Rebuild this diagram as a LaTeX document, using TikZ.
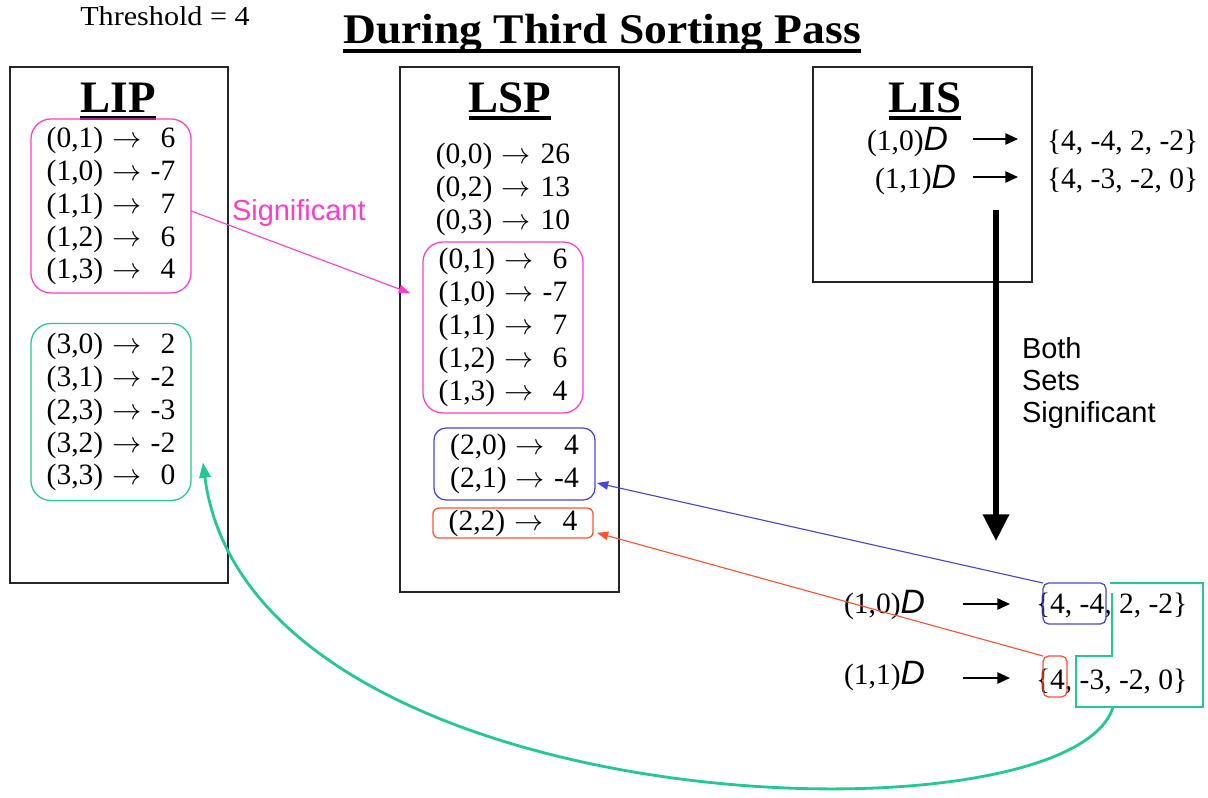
\documentclass[tikz,border=0pt]{standalone}
\usepackage{fontspec}
\usepackage{graphicx}
\setmainfont{Liberation Serif}
\newfontfamily\arialfont{Liberation Sans}
\usetikzlibrary{arrows.meta}

\definecolor{sigpink}{RGB}{255,60,200}
\definecolor{insgreen}{RGB}{35,200,150}
\definecolor{selblue}{RGB}{70,70,215}
\definecolor{selred}{RGB}{255,80,50}

% one list entry: coordinate -> value (value right aligned in a box)
\newcommand\ent[3][0.8em]{#2\hspace{0.3em}$\rightarrow$\hspace{0.35em}\makebox[#1][r]{#3}}
\newcommand\dd{{\arialfont\itshape\fontsize{24}{24}\selectfont D}}

\begin{document}
\begin{tikzpicture}[x=0.025cm,y=-0.025cm,
  every node/.style={inner sep=0pt, outer sep=0pt},
  listframe/.style={draw=black!85, line width=1.1pt, minimum width=5.45cm},
  heading/.style={font=\fontsize{32}{36}\selectfont\bfseries, anchor=base},
  entries/.style={font=\fontsize{21}{23.4}\selectfont, align=left},
  setsty/.style={font=\fontsize{21}{23.4}\selectfont},
  group/.style={draw, line width=0.9pt, rounded corners=0.5cm, minimum width=4cm,
                font=\fontsize{21}{23.4}\selectfont, align=left},
  ulrule/.style={line width=2.8pt},
  setarrow/.style={line width=1.3pt, -{Triangle[length=9pt,width=8pt]}},
  thinarrow/.style={line width=0.8pt, -{Triangle[length=8pt,width=6pt]}},
  sans/.style={font=\arialfont\fontsize{20.6}{23}\selectfont}
]
\useasboundingbox (0,0) rectangle (1208,797);

% headline
\node[font=\fontsize{19.5}{22}\selectfont, anchor=base] (thr) at (165,25) {\scalebox{1.1}[1]{Threshold = 4}};
\node[font=\fontsize{30}{34}\selectfont\bfseries, anchor=base] (title) at (602,43) {\scalebox{1.08}[1]{During Third Sorting Pass}};
\draw[ulrule] ([yshift=-5.5pt]title.base west) -- ([yshift=-5.5pt]title.base east);

% ---------- LIP ----------
\node[listframe, minimum height=12.9cm] (lip) at (119,325) {};
\node[heading] (liph) at (118,112) {LIP};
\draw[ulrule] ([yshift=-4.3pt]liph.base west) -- ([yshift=-4.3pt]liph.base east);
\node[group, draw=sigpink, minimum height=4.35cm] (lipsig) at (111,206)
  {\ent{(0,1)}{6}\\ \ent{(1,0)}{-7}\\ \ent{(1,1)}{7}\\ \ent{(1,2)}{6}\\ \ent{(1,3)}{4}};
\node[group, draw=insgreen, minimum height=4.425cm] (lipins) at (111,412)
  {\ent{(3,0)}{2}\\ \ent{(3,1)}{-2}\\ \ent{(2,3)}{-3}\\ \ent{(3,2)}{-2}\\ \ent{(3,3)}{0}};

% ---------- LSP ----------
\node[listframe, minimum width=5.475cm, minimum height=13.125cm] (lsp) at (509.5,329.5) {};
\node[heading] (lsph) at (510,112) {LSP};
\draw[ulrule] ([yshift=-4.3pt]lsph.base west) -- ([yshift=-4.3pt]lsph.base east);
\node[entries] (lspold) at (503,189)
  {\ent[1em]{(0,0)}{26}\\ \ent[1em]{(0,2)}{13}\\ \ent[1em]{(0,3)}{10}};
\node[group, draw=sigpink, minimum height=4.275cm] (lspsig) at (503,327.5)
  {\ent{(0,1)}{6}\\ \ent{(1,0)}{-7}\\ \ent{(1,1)}{7}\\ \ent{(1,2)}{6}\\ \ent{(1,3)}{4}};
\node[group, draw=selblue, rounded corners=0.3cm, minimum width=4.025cm, minimum height=1.8cm] (lspblue) at (514.5,464)
  {\ent{(2,0)}{4}\\ \ent{(2,1)}{-4}};
\node[group, draw=selred, rounded corners=0.15cm, minimum height=0.75cm] (lspred) at (513,523)
  {\ent{(2,2)}{4}};

% ---------- LIS ----------
\node[listframe, minimum width=5.475cm, minimum height=5.375cm] (lis) at (922.5,174.5) {};
\node[heading] (lish) at (925,112) {LIS};
\draw[ulrule] ([yshift=-4.3pt]lish.base west) -- ([yshift=-4.3pt]lish.base east);
\node[setsty, anchor=base east] (d10) at (948,150) {(1,0)\dd};
\node[setsty, anchor=base east] (d11) at (956,188) {(1,1)\dd};
\node[setsty, anchor=base west] (s10) at (1047,150) {\{4, -4, 2, -2\}};
\node[setsty, anchor=base west] (s11) at (1047,188) {\{4, -3, -2, 0\}};
\coordinate (a10s) at (973,139);  \coordinate (a10e) at (1018,139);
\coordinate (a11s) at (973,177);  \coordinate (a11e) at (1018,177);
\draw[setarrow] (a10s) -- (a10e);
\draw[setarrow] (a11s) -- (a11e);

% splitting both sets
\coordinate (bigtop) at (996,210);
\coordinate (bigtip) at (996,541);
\draw[line width=4pt, -{Triangle[length=19pt,width=18pt]}] (bigtop) -- (bigtip);
\node[sans, align=left, anchor=west] (both) at (1022,383) {Both\\Sets\\Significant};

% ---------- split sets ----------
\node[setsty, anchor=base east] (e10) at (925,613) {(1,0)\dd};
\node[setsty, anchor=base east] (e11) at (925,684) {(1,1)\dd};
\node[setsty, anchor=base west] (t10) at (1036,613) {\{4, -4, 2, -2\}};
\node[setsty, anchor=base west] (t11) at (1036,689) {\{4, -3, -2, 0\}};
\coordinate (b10s) at (963,604);  \coordinate (b10e) at (1010,604);
\coordinate (b11s) at (963,678);  \coordinate (b11e) at (1010,678);
\draw[setarrow] (b10s) -- (b10e);
\draw[setarrow] (b11s) -- (b11e);

\node[draw=selblue, line width=0.9pt, rounded corners=4pt, minimum width=1.575cm, minimum height=1.025cm] (bsel) at (1074.5,603.5) {};
\node[draw=selred, line width=0.9pt, rounded corners=4pt, minimum width=0.6cm, minimum height=1.025cm] (rsel) at (1055,676.5) {};
\draw[insgreen, line width=0.9pt] (1110,583) -- (1203,583) -- (1203,707) -- (1076,707)
  -- (1076,656) -- (1112,656) -- (1112,593);
\coordinate (gsel) at (1113,707);

% ---------- connectors ----------
\draw[sigpink, thinarrow] ([yshift=-3.5pt]lipsig.east) -- ([xshift=-9.2pt,yshift=24.5pt]lspsig.west);
\node[sans, text=sigpink, anchor=base west] (siglab) at (232,220) {Significant};
\draw[selblue, thinarrow] (bsel.north west) -- ([xshift=1.4pt,yshift=-13.5pt]lspblue.east);
\draw[selred, thinarrow] (rsel.north west) -- ([xshift=2.8pt,yshift=-7pt]lspred.east);
\draw[insgreen, line width=2pt, -{Triangle[length=11pt,width=8pt]}]
  (gsel) .. controls (1070,850) and (250,825) .. ([xshift=8.5pt,yshift=-35.8pt]lipins.east);
\end{tikzpicture}
\end{document}
